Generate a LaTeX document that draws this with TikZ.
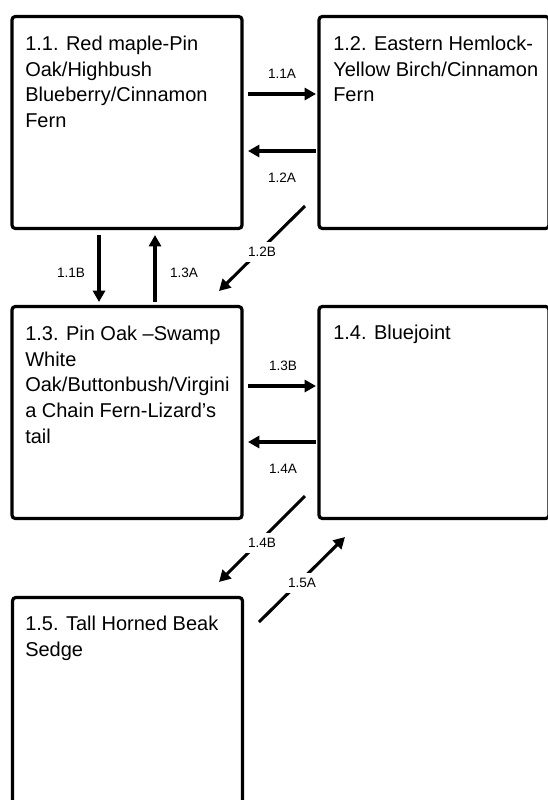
\documentclass[tikz,border=0pt]{standalone}
\usepackage{fontspec}
\setmainfont{Liberation Sans}
\usetikzlibrary{arrows.meta}
\tikzset{
  habitat/.style={draw=black, line width=2.4pt, rounded corners=2.5pt,
    minimum width=172.5pt, minimum height=159pt, inner sep=0pt},
  habtext/.style={anchor=north west, inner sep=0pt, align=left,
    font=\fontsize{15}{19.3}\selectfont},
  flow/.style={line width=2.3pt, -{Triangle[length=8.5pt,width=9pt]}},
  flowlbl/.style={font=\fontsize{10.2}{12}\selectfont, fill=white, inner xsep=3pt, inner ysep=4pt},
}
\begin{document}
\begin{tikzpicture}[x=0.75pt,y=-0.75pt]
\useasboundingbox (0,0) rectangle (548,800);
\clip (0,0) rectangle (548,800);

% boxes
\node[habitat] (b11) at (127,122.5) {};
\node[habitat] (b12) at (434,122.5) {};
\node[habitat] (b13) at (127,412.5) {};
\node[habitat] (b14) at (434,412.5) {};
\node[habitat] (b15) at (127.5,703.5) {};

% box texts
\node[habtext] (t11) at (25,32) {\strut 1.1. Red maple-Pin\\Oak/Highbush\\Blueberry/Cinnamon\\Fern};
\node[habtext] (t12) at (333,32) {\strut 1.2. Eastern Hemlock-\\Yellow Birch/Cinnamon\\Fern};
\node[habtext] (t13) at (25,322) {\strut 1.3. Pin Oak –Swamp\\White\\Oak/Buttonbush/Virgini\\a Chain Fern-Lizard’s\\tail};
\node[habtext] (t14) at (333,321) {\strut 1.4. Bluejoint};
\node[habtext] (t15) at (25,612) {\strut 1.5. Tall Horned Beak\\Sedge};

% connector end points
\coordinate (p11As) at (248,94);   \coordinate (p11Ae) at (316,94);
\coordinate (p12As) at (316,151);  \coordinate (p12Ae) at (248,151);
\coordinate (p12Bs) at (305,206);  \coordinate (p12Be) at (219,291);
\coordinate (p11Bs) at (99,235);   \coordinate (p11Be) at (99,302);
\coordinate (p13As) at (155,302);  \coordinate (p13Ae) at (155,235);
\coordinate (p13Bs) at (248,386);  \coordinate (p13Be) at (316,386);
\coordinate (p14As) at (316,442);  \coordinate (p14Ae) at (248,442);
\coordinate (p14Bs) at (305,496);  \coordinate (p14Be) at (219,582);
\coordinate (p15As) at (259,622);  \coordinate (p15Ae) at (345,537);

% connectors
\draw[flow] (p11As) -- (p11Ae);
\draw[flow] (p12As) -- (p12Ae);
\draw[flow] (p12Bs) -- (p12Be);
\draw[flow] (p11Bs) -- (p11Be);
\draw[flow] (p13As) -- (p13Ae);
\draw[flow] (p13Bs) -- (p13Be);
\draw[flow] (p14As) -- (p14Ae);
\draw[flow] (p14Bs) -- (p14Be);
\draw[flow] (p15As) -- (p15Ae);

% labels
\node[flowlbl] (l11A) at (282,74) {1.1A};
\node[flowlbl] (l12A) at (282,178) {1.2A};
\node[flowlbl] (l12B) at (262,252) {1.2B};
\node[flowlbl] (l11B) at (71,273) {1.1B};
\node[flowlbl] (l13A) at (184,273) {1.3A};
\node[flowlbl] (l13B) at (283,366) {1.3B};
\node[flowlbl] (l14A) at (283,469) {1.4A};
\node[flowlbl] (l14B) at (262,543) {1.4B};
\node[flowlbl] (l15A) at (302,583) {1.5A};
\end{tikzpicture}
\end{document}
